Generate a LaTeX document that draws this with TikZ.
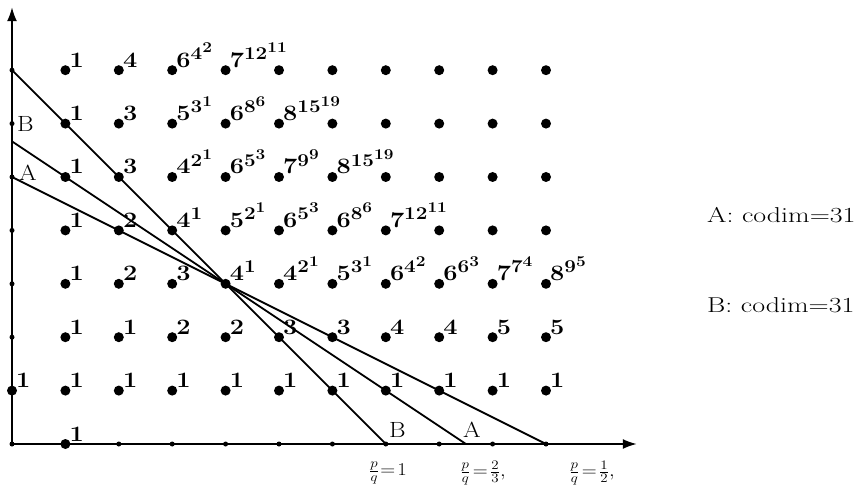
\RequirePackage{fix-cm}
\documentclass[tikz,border=0pt]{standalone}
\usepackage{graphicx}
\usetikzlibrary{arrows.meta}
\DeclareMathSizes{22}{22}{18}{15}
\DeclareMathSizes{18}{18}{13}{10}
\newcommand\stretchtxt[1]{\scalebox{1.15}[1]{#1}}
\newcommand\widetxt[1]{\scalebox{1.3}[1]{#1}}
\tikzset{
  bigdot/.style={circle,fill=black,inner sep=0pt,minimum size=10pt},
  smalldot/.style={circle,fill=black,inner sep=0pt,minimum size=5pt},
  lbl/.style={anchor=base west,inner sep=0pt,font=\fontsize{22}{26}\selectfont\boldmath},
  axlbl/.style={inner sep=0pt,font=\fontsize{22}{26}\selectfont},
  fraclbl/.style={inner sep=0pt,font=\fontsize{18}{22}\selectfont},
  sidetxt/.style={anchor=west,inner sep=0pt,font=\fontsize{21.5}{25}\selectfont},
  ln/.style={line width=1.8pt},
  axis/.style={line width=1.8pt,-{Latex[length=14pt,width=10pt]}}
}
\begin{document}
\begin{tikzpicture}[x=1pt,y=1pt]
\useasboundingbox (0,0) rectangle (864,488);
\begin{scope}[shift={(12pt,44pt)},x=53.4pt,y=53.4pt]
  \foreach \i in {1,...,10} \foreach \j in {1,...,7} \node[bigdot] (p-\i-\j) at (\i,\j) {};
  \node[bigdot] (p-0-1) at (0,1) {};
  \node[bigdot] (p-1-0) at (1,0) {};
  \foreach \j in {0,2,3,4,5,6,7} \node[smalldot] (p-0-\j) at (0,\j) {};
  \foreach \i in {2,...,10} \node[smalldot] (p-\i-0) at (\i,0) {};
  \coordinate (a0) at (0,{17/3});
  \coordinate (a1) at (8.5,0);
  \coordinate (ytip) at (0,8.18);
  \coordinate (xtip) at (11.7,0);
\end{scope}
% axes
\draw[axis] (p-0-0.center) -- (ytip);
\draw[axis] (p-0-0.center) -- (xtip);
% lines
\draw[ln] (p-0-7.center) -- (p-7-0.center);
\draw[ln] (a0) -- (a1);
\draw[ln] (p-0-5.center) -- (p-10-0.center);
% labels
\foreach \i/\j/\lab in {
  1/7/1, 2/7/4, 3/7/{6^{4^2}}, 4/7/{7^{12^{11}}},
  1/6/1, 2/6/3, 3/6/{5^{3^1}}, 4/6/{6^{8^6}}, 5/6/{8^{15^{19}}},
  1/5/1, 2/5/3, 3/5/{4^{2^1}}, 4/5/{6^{5^3}}, 5/5/{7^{9^9}}, 6/5/{8^{15^{19}}},
  1/4/1, 2/4/2, 3/4/{4^1}, 4/4/{5^{2^1}}, 5/4/{6^{5^3}}, 6/4/{6^{8^6}}, 7/4/{7^{12^{11}}},
  1/3/1, 2/3/2, 3/3/3, 4/3/{4^1}, 5/3/{4^{2^1}}, 6/3/{5^{3^1}}, 7/3/{6^{4^2}}, 8/3/{6^{6^3}}, 9/3/{7^{7^4}}, 10/3/{8^{9^5}},
  1/2/1, 2/2/1, 3/2/2, 4/2/2, 5/2/3, 6/2/3, 7/2/4, 8/2/4, 9/2/5, 10/2/5,
  0/1/1, 1/1/1, 2/1/1, 3/1/1, 4/1/1, 5/1/1, 6/1/1, 7/1/1, 8/1/1, 9/1/1, 10/1/1,
  1/0/1}
  \node[lbl] (l-\i-\j) at ([shift={(4pt,3pt)}]p-\i-\j.center) {\stretchtxt{$\lab$}};
% axis letters
\node[axlbl,anchor=west] (yB) at ([shift={(5pt,0pt)}]p-0-6.center) {\stretchtxt{B}};
\node[axlbl,anchor=west] (yA) at ([shift={(7pt,4pt)}]p-0-5.center) {\stretchtxt{A}};
\node[axlbl,anchor=base west] (xB) at ([shift={(3pt,7pt)}]p-7-0.center) {\stretchtxt{B}};
\node[axlbl,anchor=base west] (xA) at ([shift={(-3pt,7pt)}]a1) {\stretchtxt{A}};
% fractions
\node[fraclbl] (f1) at (388,15) {\stretchtxt{$\frac{p}{q}\mkern1mu{=}\mkern2mu1$}};
\node[fraclbl] (f2) at (483,15) {\stretchtxt{$\frac{p}{q}\mkern2mu{=}\mkern2mu\frac{2}{3},$}};
\node[fraclbl] (f3) at (592,15) {\stretchtxt{$\frac{p}{q}\mkern2mu{=}\mkern2mu\frac{1}{2},$}};
% side text
\node[sidetxt] (tA) at (707,273) {\widetxt{A: codim=31}};
\node[sidetxt] (tB) at (707,183) {\widetxt{B: codim=31}};
\end{tikzpicture}
\end{document}
